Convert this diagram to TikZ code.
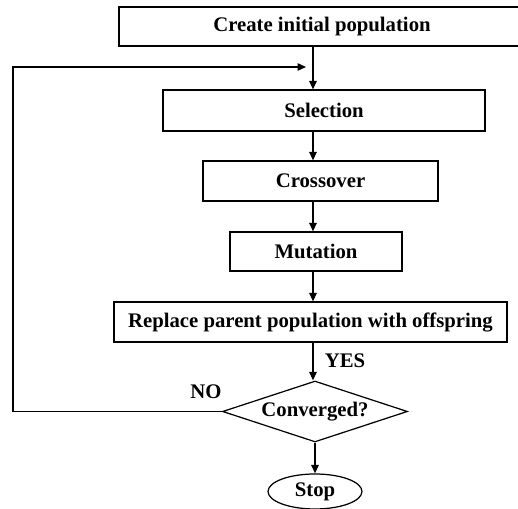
\documentclass[tikz,border=0pt]{standalone}
\usepackage{fontspec}
\setmainfont{Liberation Serif}
\usetikzlibrary{arrows.meta,shapes.geometric}

\begin{document}
\begin{tikzpicture}[x=0.02cm, y=-0.02cm, line width=0.7pt,
  stepbox/.style={draw, minimum height=0.8cm, inner sep=0pt, font=\bfseries\fontsize{11.8}{13}\selectfont},
  flow/.style={-{Triangle[length=1.7mm, width=1.5mm]}}]
  \useasboundingbox (0,0) rectangle (518,509);
  \coordinate (spine) at (313,0);
  \node[stepbox, minimum width=8.12cm, minimum height=0.78cm] (init) at (322,26.5) {Create initial population\hspace{0.84cm}};
  \node[stepbox, minimum width=6.44cm, minimum height=0.82cm] (sel) at (324,110.5) {Selection\hspace{0.6cm}};
  \node[stepbox, minimum width=4.7cm] (cross) at (320.5,181) {Crossover\hspace{0.48cm}};
  \node[stepbox, minimum width=3.44cm, minimum height=0.78cm] (mut) at (316,251.5) {Mutation\hspace{0.34cm}};
  \node[stepbox, minimum width=7.86cm] (repl) at (310.5,322) {Replace parent population with offspring};
  \node[draw, diamond, aspect=3, minimum width=3.7cm, minimum height=1.22cm, inner sep=0pt,
    font=\bfseries\fontsize{11.8}{13}\selectfont] (conv) at (315,411.5) {Converged?};
  \node[draw, ellipse, minimum width=1.88cm, minimum height=0.7cm, inner sep=0pt,
    font=\bfseries\fontsize{11.8}{13}\selectfont] (stop) at (315,491.5) {Stop};
  \coordinate (corner) at (13,67);
  \coordinate (back) at (306,67);
  % main column
  \draw[flow] (init.south -| spine) -- (sel.north -| spine);
  \draw[flow] (sel.south -| spine) -- (cross.north -| spine);
  \draw[flow] (cross.south -| spine) -- (mut.north -| spine);
  \draw[flow] (mut.south -| spine) -- (repl.north -| spine);
  \draw[flow] (repl.south -| spine) -- (conv.north -| spine);
  \draw[flow] (conv.south) -- (stop.north);
  % loop back
  \draw[flow] (conv.west) -| (corner) -- (back);
  \node[font=\bfseries\fontsize{11.8}{13}\selectfont] (yes) at (345,361) {YES};
  \node[font=\bfseries\fontsize{11.8}{13}\selectfont] (no) at (206,392) {NO};
\end{tikzpicture}
\end{document}
